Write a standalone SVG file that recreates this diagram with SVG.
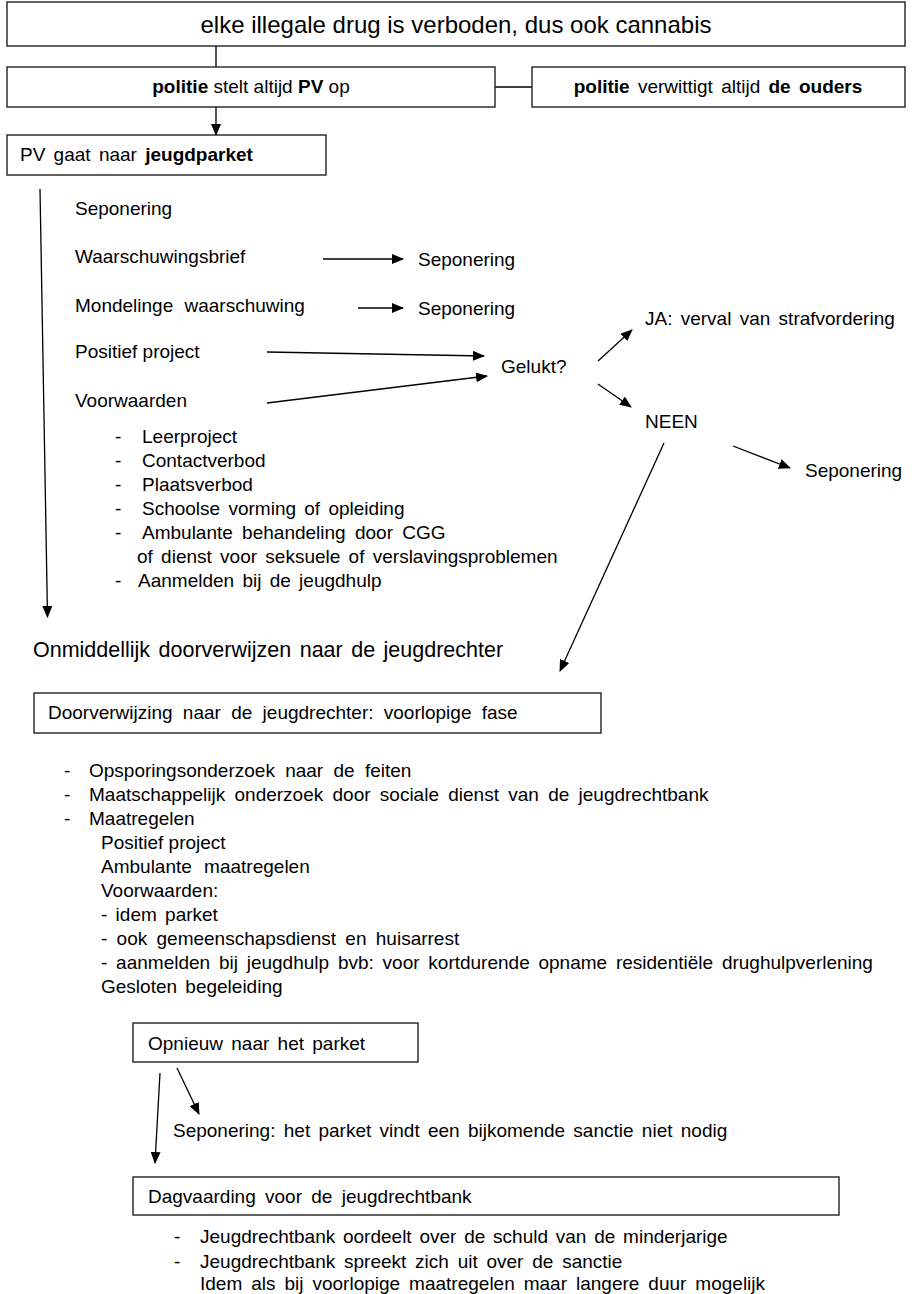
<svg xmlns="http://www.w3.org/2000/svg" width="912" height="1294" viewBox="0 0 912 1294">
<defs>
<marker id="ah" markerWidth="12" markerHeight="10" refX="11" refY="5" orient="auto" markerUnits="userSpaceOnUse">
<path d="M0,0 L12,5 L0,10 Z" fill="#000"/>
</marker>
<style>
text{font-family:"Liberation Sans",Arial,Helvetica,sans-serif;fill:#000;font-size:19px}
.box{fill:#fff;stroke:#222;stroke-width:1.4}
.ln{stroke:#000;stroke-width:1.3;fill:none}
.ar{stroke:#000;stroke-width:1.3;fill:none;marker-end:url(#ah)}
.b{font-weight:bold}
.ws{word-spacing:3px}
.ws2{word-spacing:4px}
</style>
</defs>
<rect width="912" height="1294" fill="#fff"/>

<g id="connectors">
<line class="ln" x1="216" y1="46" x2="216" y2="67"/>
<line class="ln" x1="495" y1="87" x2="532" y2="87"/>
<line class="ar" x1="216" y1="107" x2="216" y2="135"/>
<line class="ar" x1="40" y1="189" x2="47.5" y2="617"/>
<line class="ar" x1="323" y1="259" x2="403" y2="259"/>
<line class="ar" x1="358" y1="308" x2="403" y2="308"/>
<line class="ar" x1="267" y1="352" x2="484" y2="356"/>
<line class="ar" x1="267" y1="403" x2="487" y2="376"/>
<line class="ar" x1="598" y1="361" x2="632" y2="330"/>
<line class="ar" x1="598" y1="384" x2="631" y2="407"/>
<line class="ar" x1="733" y1="446" x2="790" y2="468"/>
<line class="ar" x1="664" y1="443" x2="560" y2="671"/>
<line class="ar" x1="160" y1="1073" x2="155" y2="1163"/>
<line class="ar" x1="177" y1="1068" x2="199" y2="1114"/>
</g>

<g id="n_title">
<rect class="box" x="7" y="2" width="898" height="44"/>
<text x="456" y="33" text-anchor="middle" style="font-size:24px">elke illegale drug is verboden, dus ook cannabis</text>
</g>
<g id="n_pv">
<rect class="box" x="7" y="67" width="488" height="40"/>
<text x="251" y="93" text-anchor="middle"><tspan class="b">politie</tspan> stelt altijd <tspan class="b">PV</tspan> op</text>
</g>
<g id="n_ouders">
<rect class="box" x="532" y="67" width="373" height="40"/>
<text x="718" y="93" text-anchor="middle" class="ws"><tspan class="b">politie</tspan> verwittigt altijd <tspan class="b">de ouders</tspan></text>
</g>
<g id="n_parket">
<rect class="box" x="7" y="135" width="319" height="40"/>
<text x="20" y="161" class="ws">PV gaat naar <tspan class="b">jeugdparket</tspan></text>
</g>

<g id="n_opties">
<text x="75" y="215">Seponering</text>
<text x="75" y="263">Waarschuwingsbrief</text>
<text x="75" y="312" style="word-spacing:6px">Mondelinge waarschuwing</text>
<text x="75" y="358">Positief project</text>
<text x="75" y="407">Voorwaarden</text>
</g>
<g id="n_sep1"><text x="418" y="266">Seponering</text></g>
<g id="n_sep2"><text x="418" y="315">Seponering</text></g>
<g id="n_gelukt"><text x="501" y="373">Gelukt?</text></g>
<g id="n_ja"><text x="645" y="325" class="ws">JA: verval van strafvordering</text></g>
<g id="n_neen"><text x="645" y="428">NEEN</text></g>
<g id="n_sep3"><text x="805" y="477">Seponering</text></g>

<g id="n_voorwaarden" class="ws">
<text x="115" y="443">-</text><text x="142" y="443">Leerproject</text>
<text x="115" y="467">-</text><text x="142" y="467">Contactverbod</text>
<text x="115" y="491">-</text><text x="142" y="491">Plaatsverbod</text>
<text x="115" y="515">-</text><text x="142" y="515">Schoolse vorming of opleiding</text>
<text x="115" y="539">-</text><text x="142" y="539" class="ws2">Ambulante behandeling door CGG</text>
<text x="137" y="563" class="ws">of dienst voor seksuele of verslavingsproblemen</text>
<text x="115" y="587">-</text><text x="138" y="587" class="ws">Aanmelden bij de jeugdhulp</text>
</g>

<g id="n_onmiddellijk">
<text x="33" y="657" style="font-size:21.5px;word-spacing:2.5px">Onmiddellijk doorverwijzen naar de jeugdrechter</text>
</g>

<g id="n_doorverwijzing">
<rect class="box" x="34" y="693" width="567" height="40"/>
<text x="48" y="719" style="word-spacing:5px">Doorverwijzing naar de jeugdrechter: voorlopige fase</text>
</g>

<g id="n_fase">
<text x="64" y="777">-</text><text x="89" y="777" style="word-spacing:5px">Opsporingsonderzoek naar de feiten</text>
<text x="64" y="801">-</text><text x="89" y="801" class="ws2">Maatschappelijk onderzoek door sociale dienst van de jeugdrechtbank</text>
<text x="64" y="825">-</text><text x="89" y="825">Maatregelen</text>
<text x="101" y="849">Positief project</text>
<text x="101" y="873" style="word-spacing:7px">Ambulante maatregelen</text>
<text x="101" y="897">Voorwaarden:</text>
<text x="101" y="921" class="ws">- idem parket</text>
<text x="101" y="945" class="ws2">- ook gemeenschapsdienst en huisarrest</text>
<text x="101" y="969" style="word-spacing:3.5px">- aanmelden bij jeugdhulp bvb: voor kortdurende opname residentiële drughulpverlening</text>
<text x="101" y="993" class="ws">Gesloten begeleiding</text>
</g>

<g id="n_opnieuw">
<rect class="box" x="133" y="1023" width="285" height="39"/>
<text x="148" y="1050" class="ws">Opnieuw naar het parket</text>
</g>
<g id="n_sep4"><text x="173" y="1137" class="ws">Seponering: het parket vindt een bijkomende sanctie niet nodig</text></g>

<g id="n_dagvaarding">
<rect class="box" x="133" y="1177" width="706" height="38"/>
<text x="148" y="1203" class="ws2">Dagvaarding voor de jeugdrechtbank</text>
</g>
<g id="n_vonnis">
<text x="174" y="1243">-</text><text x="200" y="1243" style="word-spacing:2.5px">Jeugdrechtbank oordeelt over de schuld van de minderjarige</text>
<text x="174" y="1268">-</text><text x="200" y="1268" style="word-spacing:3.5px">Jeugdrechtbank spreekt zich uit over de sanctie</text>
<text x="200" y="1290" style="word-spacing:3.7px">Idem als bij voorlopige maatregelen maar langere duur mogelijk</text>
</g>
</svg>
